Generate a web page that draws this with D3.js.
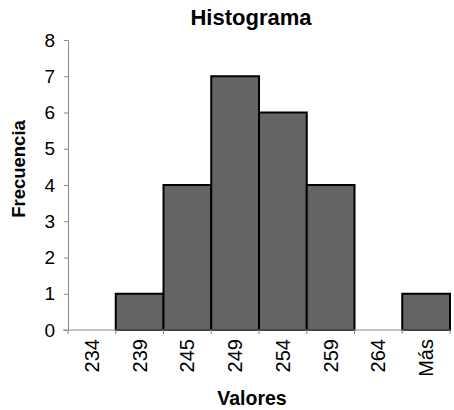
<!DOCTYPE html>
<html>
<head>
<meta charset="utf-8">
<script src="https://cdn.jsdelivr.net/npm/d3@7/dist/d3.min.js"></script>
<style>
  body { margin: 0; background: #fff; }
  svg { display: block; font-family: "Liberation Sans", Arial, sans-serif; }
</style>
</head>
<body>
<svg id="chart" width="454" height="410"></svg>
<script>
// Frequency table of the histogram
const categories = ["234", "239", "245", "249", "254", "259", "264", "Más"];
const frequencies = [0, 1, 4, 7, 6, 4, 0, 1];
const yTicks = [0, 1, 2, 3, 4, 5, 6, 7, 8];

const svg = d3.select("#chart");
const margin = { left: 68, right: 4, top: 40, bottom: 80 };
const width = 454, height = 410;

const x = d3.scaleBand()
  .domain(categories)
  .range([margin.left, width - margin.right])
  .padding(0);

const y = d3.scaleLinear()
  .domain([0, 8])
  .range([height - margin.bottom, margin.top]);

// Bars
svg.append("g")
  .selectAll("rect")
  .data(categories.map((c, i) => ({ c, v: frequencies[i] })).filter(d => d.v > 0))
  .join("rect")
  .attr("x", d => x(d.c))
  .attr("y", d => y(d.v))
  .attr("width", x.bandwidth())
  .attr("height", d => y(0) - y(d.v))
  .attr("fill", "#646464")
  .attr("stroke", "#000")
  .attr("stroke-width", 2);

// Y axis
const yAxis = svg.append("g")
  .attr("transform", `translate(${margin.left},0)`)
  .call(d3.axisLeft(y).tickValues(yTicks).tickFormat(d3.format("d")).tickSize(4).tickSizeOuter(0));
yAxis.select(".domain").attr("stroke", "#888");
yAxis.selectAll(".tick line").attr("stroke", "#888");
yAxis.selectAll(".tick text")
  .attr("x", -13)
  .attr("font-size", 19)
  .attr("fill", "#000")
  .attr("font-family", "Liberation Sans, Arial, sans-serif");

// X axis: ticks at band boundaries
const xAxis = svg.append("g")
  .attr("transform", `translate(0,${y(0)})`);
xAxis.append("line")
  .attr("x1", margin.left - 5).attr("x2", width - margin.right)
  .attr("stroke", "#888");
const bounds = categories.map(c => x(c)).concat([x(categories[categories.length - 1]) + x.bandwidth()]);
xAxis.selectAll("line.tick")
  .data(bounds)
  .join("line")
  .attr("class", "tick")
  .attr("x1", d => d).attr("x2", d => d)
  .attr("y1", 0).attr("y2", 4)
  .attr("stroke", "#888");
xAxis.selectAll("text")
  .data(categories)
  .join("text")
  .attr("transform", d => `translate(${x(d) + x.bandwidth() / 2 + 7},9) rotate(-90)`)
  .attr("text-anchor", "end")
  .attr("font-size", 20)
  .attr("fill", "#000")
  .text(d => d);

// Titles
svg.append("text")
  .attr("x", 251).attr("y", 25)
  .attr("text-anchor", "middle")
  .attr("font-size", 22).attr("font-weight", "bold")
  .text("Histograma");

svg.append("text")
  .attr("transform", "translate(25,169) rotate(-90)")
  .attr("text-anchor", "middle")
  .attr("font-size", 18.5).attr("font-weight", "bold")
  .text("Frecuencia");

svg.append("text")
  .attr("x", 252).attr("y", 405)
  .attr("text-anchor", "middle")
  .attr("font-size", 19.5).attr("font-weight", "bold")
  .text("Valores");
</script>
</body>
</html>
